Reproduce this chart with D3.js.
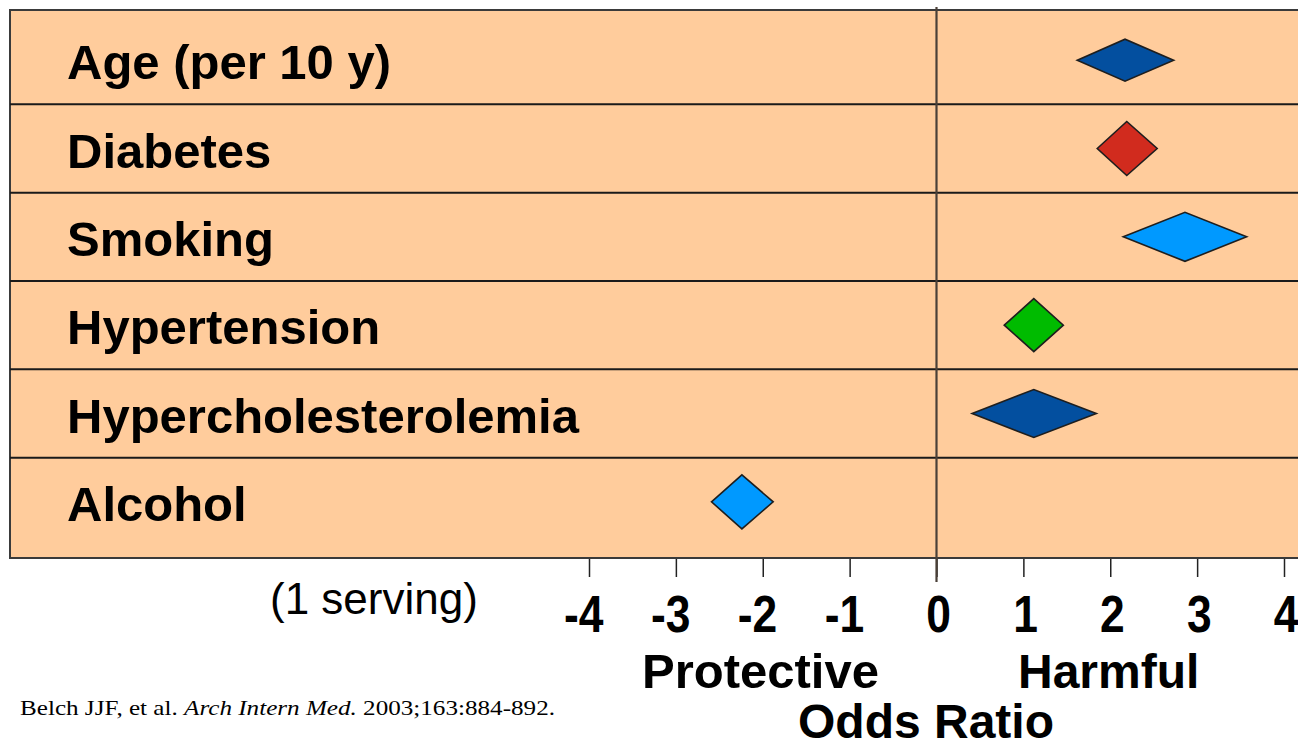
<!DOCTYPE html>
<html>
<head>
<meta charset="utf-8">
<script src="https://cdn.jsdelivr.net/npm/d3@7/dist/d3.min.js"></script>
<style>
  html, body { margin: 0; padding: 0; background: #ffffff; }
  svg { display: block; }
</style>
</head>
<body>
<script>
// ---- data ----
const categories = ["Age (per 10 y)", "Diabetes", "Smoking", "Hypertension", "Hypercholesterolemia", "Alcohol"];
const oddsCenter = [2.17, 2.19, 2.86, 1.12, 1.12, -2.24];
const ciLow      = [1.62, 1.85, 2.15, 0.78, 0.41, -2.59];
const ciHigh     = [2.73, 2.54, 3.57, 1.46, 1.84, -1.88];
const tickValues = [-4, -3, -2, -1, 0, 1, 2, 3, 4];
const sideLabels = ["Protective", "Harmful"];
const axisTitle = "Odds Ratio";
const subNote = "(1 serving)";

// ---- styles ----
const diamondColors = ["#034f9f", "#d12b1e", "#0099ff", "#00bb00", "#034f9f", "#0099ff"];
const diamondHalfHeight = [21, 27, 24.5, 26.5, 24, 27];
const panelFill = "#ffcc9c";
const sans = "'Liberation Sans', Arial, Helvetica, sans-serif";

const W = 1298, H = 749;
const svg = d3.select("body").append("svg").attr("width", W).attr("height", H);

const x = d3.scaleLinear().domain([-4, 4]).range([589, 1284]);
const y = d3.scaleBand().domain(categories).range([16, 546]).paddingInner(0).paddingOuter(0);

const panelTop = 10, panelBottom = 558, panelLeft = 10;

// panel background
svg.append("rect")
  .attr("x", panelLeft).attr("y", panelTop)
  .attr("width", W - panelLeft + 2).attr("height", panelBottom - panelTop)
  .attr("fill", panelFill)
  .attr("stroke", "#3a3a3a").attr("stroke-width", 2);

// row separators
svg.append("g").selectAll("line")
  .data(categories.slice(1))
  .join("line")
  .attr("x1", panelLeft).attr("x2", W)
  .attr("y1", d => y(d)).attr("y2", d => y(d))
  .attr("stroke", "#1a1a1a").attr("stroke-width", 2);

// axis
const axis = d3.axisBottom(x).tickValues(tickValues).tickSize(18).tickPadding(20)
  .tickFormat(d => String(d));
const ag = svg.append("g").attr("transform", `translate(0,${panelBottom + 1})`).call(axis);
ag.select(".domain").remove();
ag.selectAll(".tick line").attr("stroke", "#222").attr("stroke-width", 1.5);
const sx = 0.87;
ag.selectAll(".tick text")
  .attr("fill", "#000")
  .attr("font-family", sans)
  .attr("font-weight", "bold")
  .attr("font-size", 51)
  .attr("text-anchor", "end")
  .attr("x", 14 / sx)
  .attr("dy", 0)
  .attr("y", 73)
  .attr("transform", `scale(${sx},1)`);

// zero line
svg.append("line")
  .attr("x1", x(0)).attr("x2", x(0))
  .attr("y1", 7).attr("y2", 582)
  .attr("stroke", "#4a4038").attr("stroke-width", 2.2);

// category labels
svg.append("g").selectAll("text")
  .data(categories)
  .join("text")
  .attr("x", 67)
  .attr("y", d => y(d) + y.bandwidth() / 2 + 19)
  .attr("font-family", sans)
  .attr("font-weight", "bold")
  .attr("font-size", 49)
  .attr("fill", "#000")
  .text(d => d);

// diamonds
svg.append("g").selectAll("path")
  .data(categories.map((c, i) => ({ c, i })))
  .join("path")
  .attr("d", d => {
    const cy = y(d.c) + y.bandwidth() / 2;
    const hh = diamondHalfHeight[d.i];
    const cx = x(oddsCenter[d.i]);
    return `M${x(ciLow[d.i])},${cy} L${cx},${cy - hh} L${x(ciHigh[d.i])},${cy} L${cx},${cy + hh} Z`;
  })
  .attr("fill", d => diamondColors[d.i])
  .attr("stroke", "#1e1e1e")
  .attr("stroke-width", 1.6)
  .attr("stroke-linejoin", "miter");

// note under labels
svg.append("text")
  .attr("x", 270).attr("y", 614)
  .attr("font-family", sans).attr("font-size", 44).attr("fill", "#000")
  .text(subNote);

// side labels
svg.append("text")
  .attr("x", 642).attr("y", 688)
  .attr("font-family", sans).attr("font-weight", "bold").attr("font-size", 49).attr("fill", "#000")
  .text(sideLabels[0]);
svg.append("text")
  .attr("x", 1018).attr("y", 688)
  .attr("font-family", sans).attr("font-weight", "bold").attr("font-size", 48).attr("fill", "#000")
  .text(sideLabels[1]);

// axis title
svg.append("text")
  .attr("x", 798).attr("y", 738)
  .attr("font-family", sans).attr("font-weight", "bold").attr("font-size", 48).attr("fill", "#000")
  .text(axisTitle);

// citation
const cite = svg.append("text")
  .attr("x", 20).attr("y", 715)
  .attr("font-family", "'Liberation Serif', 'Times New Roman', serif")
  .attr("font-size", 22).attr("fill", "#000")
  .attr("textLength", 535).attr("lengthAdjust", "spacingAndGlyphs");
cite.append("tspan").text("Belch JJF, et al. ");
cite.append("tspan").attr("font-style", "italic").text("Arch Intern Med.");
cite.append("tspan").text(" 2003;163:884-892.");
</script>
</body>
</html>
